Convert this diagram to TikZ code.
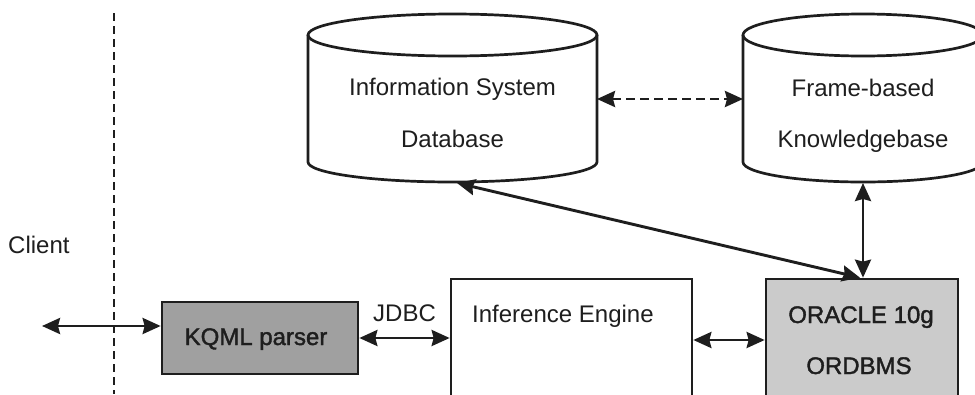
\documentclass[tikz,border=0pt]{standalone}
\usepackage{fontspec}
\setmainfont{Liberation Sans}
\newfontfamily\heavysans{Liberation Sans}[FakeBold=1.6]
\usetikzlibrary{arrows.meta}

\definecolor{ink}{HTML}{1E1E1E}
\definecolor{kqmlfill}{HTML}{A0A0A0}
\definecolor{orafill}{HTML}{CBCBCB}

\tikzset{
  lbl/.style={font=\fontsize{24}{28}\selectfont, text=ink, inner sep=0pt},
  heavylbl/.style={lbl, font=\fontsize{24}{28}\heavysans},
  boxline/.style={draw=ink, line width=2.7pt},
  plainbox/.style={boxline, fill=white, inner sep=0pt},
  kqmlbox/.style={boxline, fill=kqmlfill, inner sep=0pt},
  orabox/.style={boxline, fill=orafill, inner sep=0pt},
  tip/.tip={Stealth[length=18pt, width=16pt, inset=2pt]},
  link/.style={draw=ink, line width=2.9pt, tip-tip},
  linkdash/.style={link, dash pattern=on 9pt off 5pt},
  divider/.style={draw=ink, line width=2.8pt, dash pattern=on 8pt off 5pt},
}

\begin{document}
\begin{tikzpicture}[x=1pt, y=-1pt]
\useasboundingbox (0,0) rectangle (975,394);
\clip (0,0) rectangle (975,394);
\fill[white] (0,0) rectangle (975,394);

% client / server divider
\coordinate (divtop) at (114,13);
\coordinate (divbot) at (114,394);
\draw[divider] (divtop) -- (divbot);
\node[lbl, anchor=base west] (client) at (8,253) {Client};

% Information System Database (cylinder)
\draw[boxline] (308,35) -- (308,162)
  arc[start angle=180, end angle=0, x radius=144.5, y radius=20] -- (597,35);
\draw[boxline] (452.5,35) ellipse [x radius=144.5, y radius=21];
\node[lbl, anchor=base] (isdbA) at (452.5,95) {Information System};
\node[lbl, anchor=base] (isdbB) at (452.5,147) {Database};
\coordinate (isright) at (597,99);
\coordinate (isbottom) at (457,183);

% Frame-based Knowledgebase (cylinder)
\draw[boxline] (743,35) -- (743,162)
  arc[start angle=180, end angle=0, x radius=120, y radius=20] -- (983,35);
\draw[boxline] (863,35) ellipse [x radius=120, y radius=21];
\node[lbl, anchor=base] (fbkbA) at (863,96) {Frame-based};
\node[lbl, anchor=base] (fbkbB) at (863,147) {Knowledgebase};
\coordinate (fbleft) at (743,99);
\coordinate (fbbottom) at (863,183);

% lower row of components
\node[kqmlbox, minimum width=196pt, minimum height=72pt] (kqml) at (260,338) {};
\node[heavylbl, anchor=base] (kqmltext) at (256,345) {KQML parser};

\node[plainbox, minimum width=241pt, minimum height=141pt] (infer) at (571.5,349.5) {};
\node[lbl, anchor=base west] (infertext) at (472,322) {Inference Engine};

\node[orabox, minimum width=192pt, minimum height=141pt] (oracle) at (862,349.5) {};
\node[heavylbl, anchor=base] (oratextA) at (861,323) {ORACLE 10g};
\node[heavylbl, anchor=base] (oratextB) at (859,374) {ORDBMS};

\node[lbl, anchor=base west] (jdbc) at (373,321) {JDBC};

% connectors
\coordinate (outside) at (42,326);
\coordinate (busrow) at (0,340);
\draw[link] (outside) -- (kqml.west |- outside);
\draw[link] (kqml.east) -- (kqml.east -| infer.west);
\draw[link] (infer.east |- busrow) -- (oracle.west |- busrow);
\draw[link] (fbbottom) -- (oracle.north -| fbbottom);
\draw[link] (isbottom) -- ([xshift=-2pt]oracle.north);
\draw[linkdash] (isright) -- (fbleft);
\end{tikzpicture}
\end{document}
